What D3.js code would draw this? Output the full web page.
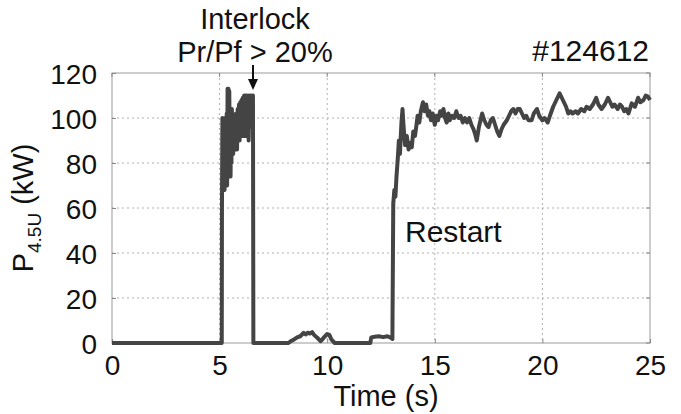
<!DOCTYPE html>
<html><head><meta charset="utf-8">
<script src="https://cdn.jsdelivr.net/npm/d3@7"></script>
<style>body{margin:0;background:#fff}svg{display:block;font-family:"Liberation Sans",Arial,sans-serif}</style>
</head><body><svg id="c" width="681" height="414"></svg>
<script>
const xTicks = [0,5,10,15,20,25];
const yTicks = [0,20,40,60,80,100,120];
// time (s) / power (kW) segments
const tOff = [0,5.10];
const pOff = [0,0];
const tSpike = [5.11,5.13,5.15,5.17,5.19,5.21,5.23,5.25,5.27,5.29,
  5.31,5.33,5.35,5.37,5.39,5.41,5.43,5.45,5.47,5.49,
  5.51,5.53,5.55,5.57,5.59,5.61,5.63,5.66,5.69,5.72,
  5.75,5.78,5.81,5.84,5.87,5.90,5.93,5.96,5.99,6.02,
  6.05,6.08,6.11,6.14,6.17,6.20,6.23,6.26,6.29,6.32,
  6.35,6.38,6.41,6.44,6.47,6.50,6.53,6.55,6.57];
const pSpike = [60,100,70,99,72,98,68,100,80,96,
  74,102,70,113,76,113,82,112,86,100,
  74,103,80,104,88,102,84,98,86,100,
  88,102,86,104,90,106,90,107,92,108,
  92,109,94,110,92,110,94,110,92,110,
  90,110,96,110,100,110,104,110,0];
const tLow = [8.2,8.3,8.45,8.6,8.75,8.9,9.0,9.1,9.2,9.3,
  9.4,9.55,9.7,9.85,10.0,10.1,10.2,10.35,12.0,12.05,
  12.2,12.4,12.6,12.8,12.95,13.03];
const pLow = [0,0.8,1.5,2.5,3.0,4.5,3.8,4.6,4.2,4.8,
  3.5,2.2,0.8,2.5,4.0,3.6,1.5,0,0,2.5,
  2.8,3.0,2.6,3.0,2.4,1.8];
const tRestart = [13.07,13.12,13.17,13.22,13.28,13.33,13.38,13.45,13.5,13.55,13.62,13.7,13.78,13.86,13.93,14.0,14.08,14.15,14.2,14.28,14.35,14.45,14.52,14.6,14.68,14.75,14.82,14.9,15.0,
15.08,15.15,15.25,15.32,15.4,15.48,15.55,15.63,15.7,15.8,15.9,16.0,16.1,16.2,16.3,16.4,16.5,16.6,16.7,16.8,16.9,16.95,17.05,17.15,17.2,17.3,17.4,17.5,17.6,17.7,17.8,17.9,18.0,
18.1,18.2,18.35,18.45,18.55,18.65,18.75,18.85,18.95,19.05,19.15,19.25,19.35,19.5,19.6,19.75,19.85,20.0,20.1,20.25,20.35,20.5,20.6,20.7,20.8,20.9,21.0,21.1,21.2,21.3,21.4,21.55,21.65,21.8,21.95,
22.05,22.2,22.35,22.5,22.6,22.75,22.9,23.05,23.15,23.25,23.35,23.5,23.6,23.7,23.8,23.9,24.0,24.1,24.15,24.3,24.45,24.55,24.7,24.8,24.9,25.0];
const pRestart = [62,68,65,74,82,90,84,98,104,96,88,92,86,89,87,94,92,97,101,98,103,107,103,106,101,103,99,102,97,
101,99,103,101,104,100,98,102,99,101,100,103,100,101,98,100,98,100,97,95,92,90,96,100,102,99,97,96,99,100,97,94,92,
95,97,99,101,103,104,102,104,104,102,100,101,99,99,102,104,101,99,100,98,101,105,107,109,111,109,107,105,102,103,102,103,102,104,103,
105,104,106,109,106,104,106,109,107,105,106,104,106,105,103,104,102,105,106.5,105,109,107,108,110,109.5,108];
const times = tOff.concat(tSpike, tLow, tRestart);
const power = pOff.concat(pSpike, pLow, pRestart);

const FONT = '"Liberation Sans",Arial,sans-serif';
const svg = d3.select('#c');
svg.append('rect').attr('width',681).attr('height',414).attr('fill','#fff');
const L=112,R=650,T=73,B=343;
const x = d3.scaleLinear().domain([0,25]).range([L,R]);
const y = d3.scaleLinear().domain([0,120]).range([B,T]);
const grid = svg.append('g');
grid.selectAll('.hg').data(yTicks.filter(d=>d>0&&d<120)).enter().append('line')
  .attr('x1',L).attr('x2',R).attr('y1',d=>y(d)).attr('y2',d=>y(d))
  .attr('stroke','#b0b0b0').attr('stroke-width',1).attr('stroke-dasharray','2,3');
grid.selectAll('.vg').data(xTicks.filter(d=>d>0&&d<25)).enter().append('line')
  .attr('y1',T).attr('y2',B).attr('x1',d=>x(d)).attr('x2',d=>x(d))
  .attr('stroke','#b0b0b0').attr('stroke-width',1).attr('stroke-dasharray','2,3');
svg.append('rect').attr('x',L).attr('y',T).attr('width',R-L).attr('height',B-T)
  .attr('fill','none').attr('stroke','#999').attr('stroke-width',1);
// inner ticks on right and top
svg.append('g').selectAll('line').data(yTicks).enter().append('line')
  .attr('x1',R-4).attr('x2',R).attr('y1',d=>y(d)).attr('y2',d=>y(d)).attr('stroke','#888');
svg.append('g').selectAll('line').data(xTicks).enter().append('line')
  .attr('y1',T).attr('y2',T+4).attr('x1',d=>x(d)).attr('x2',d=>x(d)).attr('stroke','#888');
const ax = svg.append('g').attr('transform',`translate(0,${B})`).call(d3.axisBottom(x).tickValues(xTicks).tickSize(-4).tickPadding(12).tickFormat(d3.format('d')));
const ay = svg.append('g').attr('transform',`translate(${L},0)`).call(d3.axisLeft(y).tickValues(yTicks).tickSize(-4).tickPadding(15).tickFormat(d3.format('d')));
[ax,ay].forEach(a=>{a.select('.domain').remove();a.selectAll('line').attr('stroke','#888');a.selectAll('text').attr('font-size',28).attr('fill','#111').attr('font-family',FONT);});
ay.selectAll('text').attr('dy','0.36em');
ax.selectAll('text').attr('dy','0.71em');
const pts = times.map((t,i)=>[t,power[i]]);
svg.append('path').datum(pts).attr('fill','none').attr('stroke','#444').attr('stroke-width',4).attr('stroke-linejoin','round')
  .attr('d',d3.line().x(d=>x(d[0])).y(d=>y(d[1])));
const tx = (s,xx,yy,anchor,size)=>svg.append('text').attr('x',xx).attr('y',yy).attr('text-anchor',anchor).attr('font-size',size).attr('fill','#111').attr('font-family',FONT).text(s);
tx('Interlock',255,29,'middle',29);
tx('Pr/Pf > 20%',255,62,'middle',29);
tx('#124612',649,61,'end',30);
tx('Restart',405,242,'start',30);
tx('Time (s)',386,406,'middle',29);
const yl = svg.append('text').attr('transform','translate(33,208) rotate(-90)').attr('text-anchor','middle').attr('font-size',29).attr('fill','#111').attr('font-family',FONT);
yl.append('tspan').text('P');
yl.append('tspan').attr('font-size',19).attr('dy',8).text('4.5U');
yl.append('tspan').attr('dy',-8).text(' (kW)');
svg.append('line').attr('x1',253).attr('x2',253).attr('y1',65).attr('y2',82).attr('stroke','#111').attr('stroke-width',2);
svg.append('path').attr('d','M248,79 L258,79 L253,90 Z').attr('fill','#111');
</script></body></html>
